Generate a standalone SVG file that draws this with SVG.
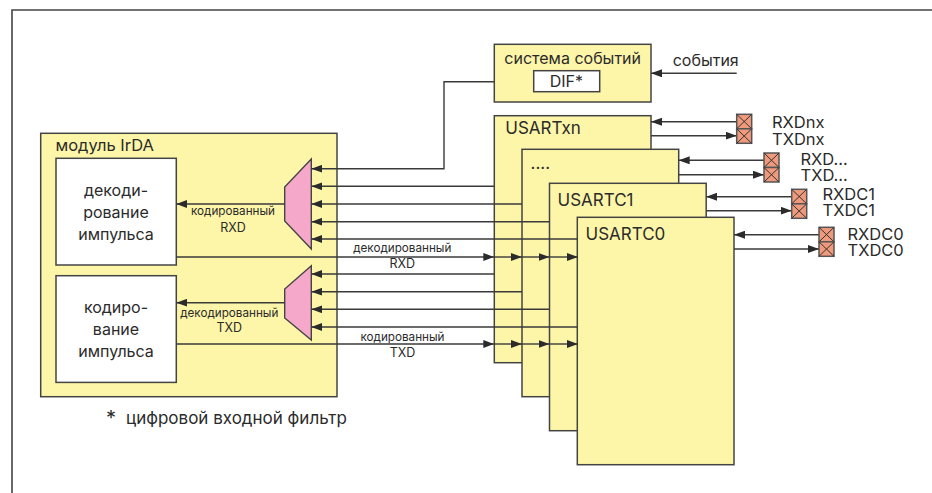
<svg xmlns="http://www.w3.org/2000/svg" width="932" height="493" viewBox="0 0 932 493">
<style>
.b{fill:#fdf6a9;stroke:#444;stroke-width:1.5}
.w{fill:#fff;stroke:#444;stroke-width:1.5}
.m{fill:#f5a8c9;stroke:#444;stroke-width:1.4}
.p{fill:#ef9a7c;stroke:#555;stroke-width:1.5}
.x{stroke:#333;stroke-width:1;fill:none}
.c{fill:none;stroke:#3a3a3a;stroke-width:1.4}
text{font-family:Inter,"Noto Sans","Liberation Sans",sans-serif;fill:#2b2b2b}
.t{font-size:16px}
.l{font-size:16.500px}
.f{font-size:17px}
.u{font-size:17px}
.s{font-size:11.700px}
.r{font-size:12.500px}
.mid{text-anchor:middle}
</style>
<defs>
<marker id="a" markerUnits="userSpaceOnUse" markerWidth="11" markerHeight="8" refX="11" refY="4" orient="auto"><path d="M0 0L11 4L0 8Z" fill="#2b2b2b"/></marker>
<g id="pad"><rect class="p" width="15" height="14.500"/><path class="x" d="M0 0L15 14.500M15 0L0 14.500"/></g>
</defs>
<rect width="932" height="493" fill="#fff"/>
<path d="M12 493V10H932" fill="none" stroke="#444" stroke-width="1.6"/>
<g id="irda">
<rect class="b" x="40.700" y="133.300" width="296.300" height="263.400"/>
<text class="l" x="55.500" y="151">модуль IrDA</text>
</g>
<g id="decode">
<rect class="w" x="56" y="158.300" width="120.300" height="106.700"/>
<text class="t mid" x="116" y="196">декоди-</text>
<text class="t mid" x="116" y="218">рование</text>
<text class="t mid" x="116" y="240">импульса</text>
</g>
<g id="encode">
<rect class="w" x="56" y="275.700" width="120.300" height="106.700"/>
<text class="t mid" x="116" y="313">кодиро-</text>
<text class="t mid" x="116" y="335">вание</text>
<text class="t mid" x="116" y="357">импульса</text>
</g>
<g id="mux1"><path class="m" d="M311.300 159V249L284.700 221V187Z"/></g>
<g id="mux2"><path class="m" d="M311.300 265.700V340L284.700 318V289Z"/></g>
<g id="events">
<rect class="b" x="494.300" y="44.300" width="156.700" height="57.700"/>
<text class="t mid" x="572.700" y="64.300">система событий</text>
<rect class="w" x="533.700" y="70.700" width="66" height="21"/>
<text class="t mid" x="566.300" y="87">DIF*</text>
</g>
<g id="usartxn">
<rect class="b" x="494.300" y="115.700" width="156.700" height="247"/>
<text class="u" x="505.300" y="134.300">USARTxn</text>
</g>
<g id="usartdots">
<rect class="b" x="522" y="149.300" width="156.700" height="247.400"/>
<text class="u" x="530.500" y="169">....</text>
</g>
<g id="usartc1">
<rect class="b" x="549.500" y="183.300" width="156.700" height="247.400"/>
<text class="u" x="557.500" y="205.500">USARTC1</text>
</g>
<g id="usartc0">
<rect class="b" x="577.300" y="217.300" width="156.700" height="247.400"/>
<text class="u" x="585.500" y="239.500">USARTC0</text>
</g>
<g id="connectors" class="c">
<path class="c" marker-end="url(#a)" d="M494.300 81.700H444V168.700H311.300"/>
<path class="c" marker-end="url(#a)" d="M736.700 73.300H651"/>
<path class="c" marker-end="url(#a)" d="M494.300 186.300H311.300"/>
<path class="c" marker-end="url(#a)" d="M522 204H311.300"/>
<path class="c" marker-end="url(#a)" d="M549.500 221.700H311.300"/>
<path class="c" marker-end="url(#a)" d="M577.300 239H311.300"/>
<path class="c" marker-end="url(#a)" d="M494.300 274H311.300"/>
<path class="c" marker-end="url(#a)" d="M522 291.700H311.300"/>
<path class="c" marker-end="url(#a)" d="M549.500 309.300H311.300"/>
<path class="c" marker-end="url(#a)" d="M577.300 327H311.300"/>
<path class="c" marker-end="url(#a)" d="M284.700 204H176.300"/>
<path class="c" marker-end="url(#a)" d="M284.700 302.700H176.300"/>
<path class="c" marker-end="url(#a)" d="M176.300 257H494.300"/>
<path class="c" marker-end="url(#a)" d="M494.300 257H522"/>
<path class="c" marker-end="url(#a)" d="M522 257H549.500"/>
<path class="c" marker-end="url(#a)" d="M549.500 257H578"/>
<path class="c" marker-end="url(#a)" d="M176.300 344H494.300"/>
<path class="c" marker-end="url(#a)" d="M494.300 344H522"/>
<path class="c" marker-end="url(#a)" d="M522 344H549.500"/>
<path class="c" marker-end="url(#a)" d="M549.500 344H578"/>
<path class="c" marker-end="url(#a)" d="M736.700 121.700H651"/>
<path class="c" marker-end="url(#a)" d="M651 135.700H736.700"/>
<path class="c" marker-end="url(#a)" d="M764 160.300H678.700"/>
<path class="c" marker-end="url(#a)" d="M678.700 174.700H764"/>
<path class="c" marker-end="url(#a)" d="M791.700 196.700H706.200"/>
<path class="c" marker-end="url(#a)" d="M706.200 210.700H791.700"/>
<path class="c" marker-end="url(#a)" d="M819 234.700H734"/>
<path class="c" marker-end="url(#a)" d="M734 249H819"/>
</g>
<g id="pad1"><use href="#pad" x="736.700" y="114.300"/><use href="#pad" x="736.700" y="128.800"/></g>
<g id="pad2"><use href="#pad" x="764" y="153"/><use href="#pad" x="764" y="167.500"/></g>
<g id="pad3"><use href="#pad" x="791.700" y="189.300"/><use href="#pad" x="791.700" y="203.800"/></g>
<g id="pad4"><use href="#pad" x="819" y="227.300"/><use href="#pad" x="819" y="241.800"/></g>
<g id="labels">
<text class="t" x="672.700" y="65.700">события</text>
<text class="l" x="772" y="127.700">RXDnx</text>
<text class="l" x="772" y="144.700">TXDnx</text>
<text class="l" x="800.500" y="165">RXD...</text>
<text class="l" x="800.500" y="181">TXD...</text>
<text class="l" x="822.500" y="199.500">RXDC1</text>
<text class="l" x="822.500" y="216">TXDC1</text>
<text class="l" x="847.500" y="239.500">RXDC0</text>
<text class="l" x="847.500" y="256">TXDC0</text>
<text class="s mid" x="233" y="215.300">кодированный</text>
<text class="r mid" x="233" y="231.700">RXD</text>
<text class="s mid" x="229.300" y="316.700">декодированный</text>
<text class="r mid" x="229.300" y="332.300">TXD</text>
<text class="s mid" x="402.300" y="252.300">декодированный</text>
<text class="r mid" x="402.300" y="268.300">RXD</text>
<text class="s mid" x="402.500" y="341">кодированный</text>
<text class="r mid" x="402.500" y="357">TXD</text>
<text x="106" y="425" font-size="20">*</text>
<text class="f" x="126" y="424">цифровой входной фильтр</text>
</g>
</svg>
